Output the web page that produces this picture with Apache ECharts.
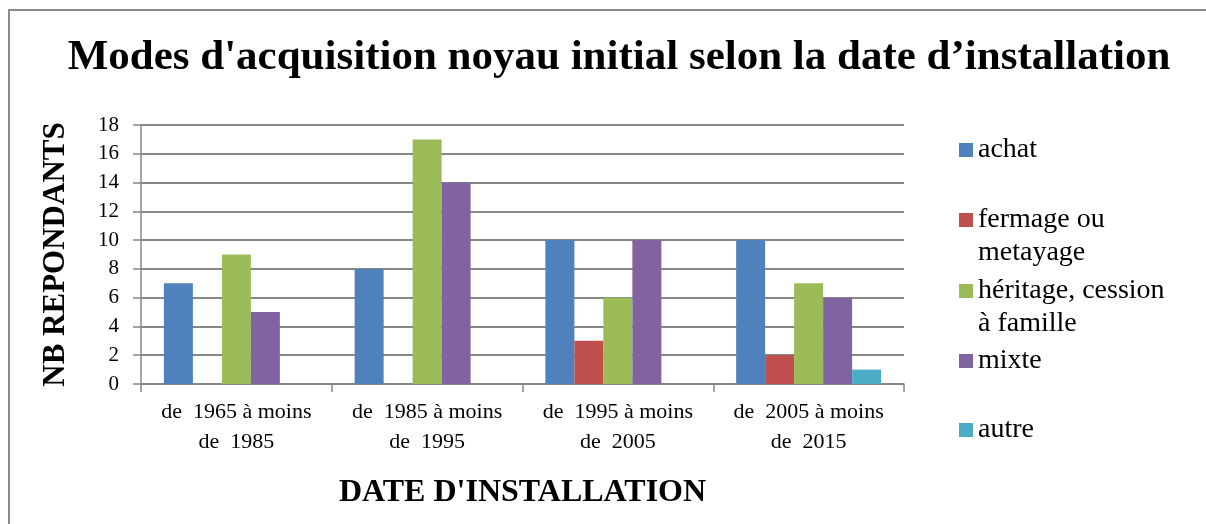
<!DOCTYPE html>
<html>
<head>
<meta charset="utf-8">
<script src="https://cdn.jsdelivr.net/npm/echarts@6/dist/echarts.min.js"></script>
<style>
  html, body { margin: 0; padding: 0; background: #fff; }
  #chart { width: 1206px; height: 524px; }
</style>
</head>
<body>
<div id="chart"></div>
<script>
// categories (date d'installation)
const periods = [
  'de  1965 à moins\nde  1985',
  'de  1985 à moins\nde  1995',
  'de  1995 à moins\nde  2005',
  'de  2005 à moins\nde  2015'
]
const yTicks = [0, 2, 4, 6, 8, 10, 12, 14, 16, 18]

// series values
const achat = [7, 8, 10, 10]
const fermage = [0, 0, 3, 2]
const heritage = [9, 17, 6, 7]
const mixte = [5, 14, 10, 6]
const autre = [0, 0, 0, 1]

const serif = '"Liberation Serif", "Times New Roman", serif'
const gridColor = '#878787'

const seriesDefs = [
  { name: 'achat', label: 'achat', data: achat, color: '#4f81bd', iconY: 150 },
  { name: 'fermage ou metayage', label: '\nfermage ou\nmetayage', data: fermage, color: '#c0504d', iconY: 220 },
  { name: 'héritage, cession à famille', label: '\nhéritage, cession\nà famille', data: heritage, color: '#9bbb59', iconY: 291 },
  { name: 'mixte', label: 'mixte', data: mixte, color: '#8064a2', iconY: 361 },
  { name: 'autre', label: 'autre', data: autre, color: '#4bacc6', iconY: 430 }
]

const lineH = 33

// one legend per entry so each sits where the reference puts it
const legends = seriesDefs.map(s => {
  const nLines = s.label.split('\n').length
  return {
    left: 959,
    top: s.iconY - lineH * nLines / 2,
    padding: 0,
    orient: 'vertical',
    icon: 'rect',
    itemWidth: 14,
    itemHeight: 14,
    selectedMode: false,
    formatter: () => s.label,
    textStyle: {
      fontFamily: serif,
      fontSize: 28,
      color: '#000',
      lineHeight: lineH
    },
    data: [s.name]
  }
})

const chart = echarts.init(document.getElementById('chart'))
chart.setOption({
  animation: false,
  title: {
    text: 'Modes d\'acquisition noyau initial selon la date d\u2019installation',
    left: 614,
    textAlign: 'center',
    top: 31,
    textStyle: {
      fontFamily: serif,
      fontWeight: 'bold',
      fontSize: 43,
      color: '#000'
    }
  },
  graphic: [{
    type: 'rect',
    shape: { x: 9, y: 10, width: 1400, height: 700 },
    style: { fill: 'none', stroke: '#8a8a8a', lineWidth: 2 },
    silent: true
  }],
  legend: legends,
  grid: { left: 141, top: 125, right: 302, bottom: 140 },
  xAxis: {
    type: 'category',
    data: periods,
    name: 'DATE D\'INSTALLATION',
    nameLocation: 'middle',
    nameGap: 93,
    nameTextStyle: { fontFamily: serif, fontWeight: 'bold', fontSize: 32, color: '#000' },
    axisLine: { lineStyle: { color: gridColor, width: 1.5 } },
    axisTick: { show: true, length: 8, lineStyle: { color: gridColor, width: 1.5 } },
    axisLabel: {
      interval: 0,
      margin: 13,
      fontFamily: serif,
      fontSize: 22,
      lineHeight: 30,
      color: '#000'
    }
  },
  yAxis: {
    type: 'value',
    min: yTicks[0],
    max: yTicks[yTicks.length - 1],
    interval: 2,
    name: 'NB REPONDANTS',
    nameLocation: 'middle',
    nameGap: 70,
    nameTextStyle: { fontFamily: serif, fontWeight: 'bold', fontSize: 31, color: '#000' },
    axisLine: { show: true, lineStyle: { color: gridColor, width: 1.5 } },
    axisTick: { show: true, length: 8, lineStyle: { color: gridColor, width: 1.5 } },
    axisLabel: { margin: 22, fontFamily: serif, fontSize: 21, color: '#000' },
    splitLine: { lineStyle: { color: gridColor, width: 2 } }
  },
  series: seriesDefs.map(s => ({
    name: s.name,
    type: 'bar',
    data: s.data,
    barGap: '0%',
    barCategoryGap: '24%',
    itemStyle: { color: s.color }
  }))
})
</script>
</body>
</html>
